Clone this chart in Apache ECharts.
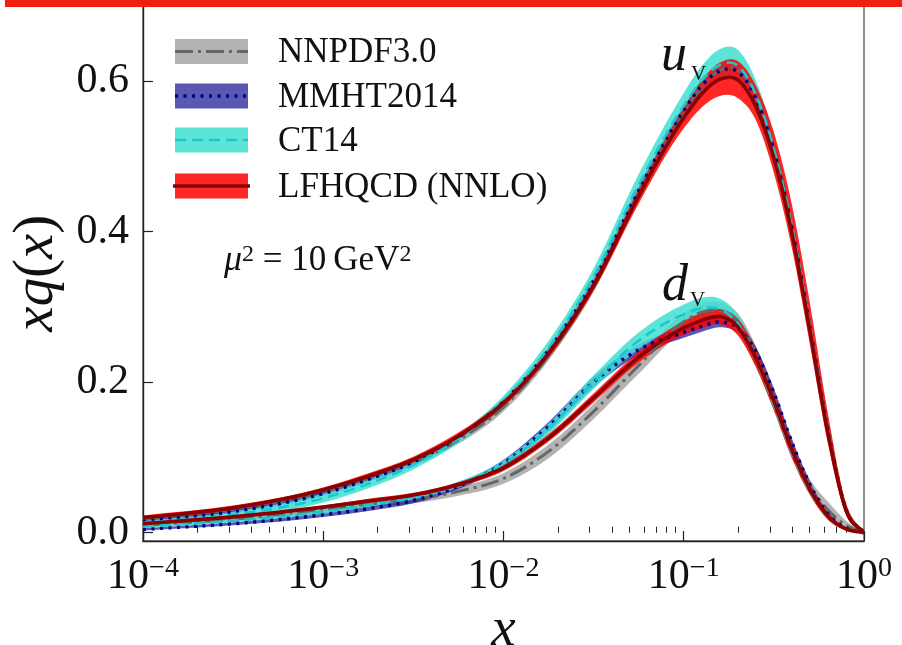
<!DOCTYPE html>
<html>
<head>
<meta charset="utf-8">
<script src="https://cdn.jsdelivr.net/npm/echarts@6.0.0/dist/echarts.min.js"></script>
<style>
  html, body { margin: 0; padding: 0; background: #ffffff; }
  #chart { width: 902px; height: 645px; }
</style>
</head>
<body>
<div id="chart"></div>
<script>
// Momentum fraction grid: quarter decades at small x, tenths of a decade near the peak
const xGrid = [1e-4, 3.16e-4, 1e-3, 1.78e-3, 3.16e-3, 5.62e-3, 0.01, 0.0178, 0.0316, 0.0562, 0.1,
               0.126, 0.158, 0.2, 0.251, 0.316, 0.398, 0.501, 0.631, 0.794, 1.0];

// x u_v(x) at mu^2 = 10 GeV^2 : central values and uncertainty band edges
const uvLfhqcdMid = [0.020, 0.033, 0.057, 0.075, 0.097, 0.128, 0.172, 0.238, 0.328, 0.447, 0.551, 0.583, 0.602, 0.601, 0.566, 0.498, 0.398, 0.268, 0.132, 0.030, 0.000];
const uvLfhqcdLo  = [0.017, 0.030, 0.054, 0.072, 0.093, 0.124, 0.167, 0.232, 0.321, 0.437, 0.537, 0.565, 0.580, 0.577, 0.548, 0.478, 0.378, 0.250, 0.118, 0.024, 0.000];
const uvLfhqcdHi  = [0.023, 0.036, 0.060, 0.079, 0.101, 0.133, 0.177, 0.244, 0.335, 0.457, 0.565, 0.601, 0.624, 0.626, 0.594, 0.532, 0.436, 0.305, 0.158, 0.040, 0.000];

const uvCt14Mid = [0.013, 0.024, 0.046, 0.065, 0.090, 0.125, 0.175, 0.246, 0.340, 0.462, 0.567, 0.601, 0.621, 0.620, 0.582, 0.510, 0.407, 0.274, 0.136, 0.031, 0.000];
const uvCt14Lo  = [0.010, 0.020, 0.040, 0.059, 0.084, 0.119, 0.168, 0.237, 0.329, 0.448, 0.550, 0.582, 0.600, 0.599, 0.563, 0.494, 0.395, 0.266, 0.131, 0.029, 0.000];
const uvCt14Hi  = [0.016, 0.028, 0.052, 0.071, 0.096, 0.131, 0.182, 0.255, 0.351, 0.476, 0.584, 0.620, 0.642, 0.641, 0.601, 0.526, 0.419, 0.282, 0.141, 0.033, 0.000];

const uvMmhtMid = [0.015, 0.028, 0.052, 0.071, 0.094, 0.127, 0.174, 0.243, 0.335, 0.455, 0.561, 0.594, 0.613, 0.612, 0.577, 0.507, 0.405, 0.273, 0.136, 0.031, 0.000];
const uvMmhtLo  = [0.013, 0.026, 0.049, 0.068, 0.091, 0.124, 0.170, 0.239, 0.330, 0.449, 0.554, 0.586, 0.605, 0.604, 0.569, 0.500, 0.399, 0.268, 0.133, 0.030, 0.000];
const uvMmhtHi  = [0.017, 0.030, 0.055, 0.074, 0.097, 0.130, 0.178, 0.247, 0.340, 0.461, 0.568, 0.602, 0.621, 0.620, 0.585, 0.514, 0.411, 0.278, 0.139, 0.032, 0.000];

const uvNnpdfMid = [0.018, 0.031, 0.054, 0.072, 0.093, 0.123, 0.167, 0.235, 0.327, 0.449, 0.557, 0.592, 0.614, 0.615, 0.580, 0.508, 0.404, 0.271, 0.134, 0.030, 0.000];
const uvNnpdfLo  = [0.015, 0.028, 0.050, 0.068, 0.088, 0.118, 0.161, 0.229, 0.320, 0.442, 0.549, 0.584, 0.606, 0.607, 0.572, 0.500, 0.397, 0.265, 0.130, 0.028, 0.000];
const uvNnpdfHi  = [0.021, 0.034, 0.058, 0.076, 0.098, 0.128, 0.173, 0.241, 0.334, 0.456, 0.565, 0.600, 0.622, 0.623, 0.588, 0.516, 0.411, 0.277, 0.138, 0.032, 0.000];

// x d_v(x) at mu^2 = 10 GeV^2
const dvLfhqcdMid = [0.012, 0.021, 0.034, 0.042, 0.050, 0.064, 0.086, 0.126, 0.179, 0.233, 0.272, 0.282, 0.287, 0.273, 0.232, 0.175, 0.110, 0.058, 0.022, 0.005, 0.000];
const dvLfhqcdLo  = [0.010, 0.019, 0.032, 0.039, 0.047, 0.061, 0.082, 0.121, 0.173, 0.226, 0.263, 0.272, 0.277, 0.262, 0.220, 0.163, 0.099, 0.050, 0.017, 0.003, 0.000];
const dvLfhqcdHi  = [0.014, 0.023, 0.036, 0.045, 0.053, 0.067, 0.090, 0.131, 0.185, 0.240, 0.281, 0.292, 0.297, 0.284, 0.244, 0.187, 0.121, 0.066, 0.027, 0.007, 0.000];

const dvCt14Mid = [0.008, 0.016, 0.028, 0.037, 0.047, 0.064, 0.091, 0.138, 0.200, 0.255, 0.290, 0.298, 0.297, 0.277, 0.231, 0.170, 0.106, 0.055, 0.021, 0.005, 0.000];
const dvCt14Lo  = [0.006, 0.014, 0.025, 0.034, 0.044, 0.060, 0.086, 0.131, 0.191, 0.244, 0.277, 0.284, 0.283, 0.265, 0.221, 0.162, 0.100, 0.051, 0.019, 0.004, 0.000];
const dvCt14Hi  = [0.010, 0.018, 0.031, 0.040, 0.050, 0.068, 0.096, 0.145, 0.209, 0.266, 0.303, 0.312, 0.311, 0.289, 0.241, 0.178, 0.112, 0.059, 0.023, 0.006, 0.000];

const dvMmhtMid = [0.0045, 0.012, 0.024, 0.032, 0.043, 0.062, 0.092, 0.141, 0.200, 0.243, 0.266, 0.274, 0.280, 0.272, 0.240, 0.186, 0.120, 0.064, 0.025, 0.006, 0.000];
const dvMmhtLo  = [0.003, 0.010, 0.021, 0.029, 0.039, 0.058, 0.087, 0.135, 0.193, 0.236, 0.259, 0.267, 0.273, 0.265, 0.233, 0.180, 0.115, 0.060, 0.023, 0.005, 0.000];
const dvMmhtHi  = [0.006, 0.014, 0.027, 0.035, 0.047, 0.066, 0.097, 0.147, 0.207, 0.250, 0.273, 0.281, 0.287, 0.279, 0.247, 0.192, 0.125, 0.068, 0.027, 0.007, 0.000];

const dvNnpdfMid = [0.010, 0.018, 0.031, 0.038, 0.044, 0.055, 0.072, 0.108, 0.161, 0.222, 0.280, 0.293, 0.295, 0.280, 0.238, 0.178, 0.113, 0.062, 0.030, 0.010, 0.000];
const dvNnpdfLo  = [0.007, 0.015, 0.027, 0.034, 0.039, 0.049, 0.065, 0.099, 0.151, 0.211, 0.269, 0.282, 0.284, 0.269, 0.228, 0.169, 0.105, 0.053, 0.021, 0.005, 0.000];
const dvNnpdfHi  = [0.013, 0.021, 0.035, 0.042, 0.049, 0.061, 0.079, 0.117, 0.171, 0.233, 0.291, 0.304, 0.306, 0.291, 0.248, 0.187, 0.121, 0.071, 0.041, 0.016, 0.000];

// Axis ticks
const yTickValues = [0, 0.2, 0.4, 0.6];
const xMajorTicks = [1e-4, 1e-3, 1e-2, 1e-1, 1];
const xMinorTicks = [2e-4, 3e-4, 4e-4, 5e-4, 6e-4, 7e-4, 8e-4, 9e-4,
                     2e-3, 3e-3, 4e-3, 5e-3, 6e-3, 7e-3, 8e-3, 9e-3,
                     0.02, 0.03, 0.04, 0.05, 0.06, 0.07, 0.08, 0.09,
                     0.2, 0.3, 0.4, 0.5, 0.6, 0.7, 0.8, 0.9];

const legendNames = ['NNPDF3.0', 'MMHT2014', 'CT14', 'LFHQCD (NNLO)'];

const SERIF = '"Liberation Serif", "DejaVu Serif", serif';
const INK = '#111111';

const styles = {
  nnpdf:  { band: 'rgba(128,128,128,0.6)', line: '#666666', width: 3,   dash: [18, 5, 3, 5] },
  mmht:   { band: 'rgba(0,0,139,0.65)',    line: '#00008b', width: 3.5, dash: [3, 5.5] },
  ct14:   { band: 'rgba(64,224,208,0.85)', line: '#1cc6cf', width: 2.6, dash: [11, 6] },
  lfhqcd: { band: 'rgba(255,0,0,0.85)',    line: '#8b0000', width: 3.6, dash: 'solid' }
};

function pairs(vals) { return xGrid.map((x, i) => [x, vals[i]]); }

// Smooth cubic path through pixel points (tangents from neighbouring secants)
function cubicThrough(P) {
  const n = P.length, h = [], d = [], m = [];
  for (let i = 0; i < n - 1; i++) {
    h[i] = P[i + 1][0] - P[i][0];
    d[i] = (P[i + 1][1] - P[i][1]) / h[i];
  }
  m[0] = d[0]; m[n - 1] = d[n - 2];
  for (let i = 1; i < n - 1; i++) m[i] = (d[i - 1] * h[i] + d[i] * h[i - 1]) / (h[i - 1] + h[i]);
  let s = '';
  for (let i = 0; i < n - 1; i++) {
    const c1x = P[i][0] + h[i] / 3, c1y = P[i][1] + m[i] * h[i] / 3;
    const c2x = P[i + 1][0] - h[i] / 3, c2y = P[i + 1][1] - m[i + 1] * h[i] / 3;
    s += ' C' + c1x.toFixed(2) + ',' + c1y.toFixed(2) + ' ' + c2x.toFixed(2) + ',' + c2y.toFixed(2) +
         ' ' + P[i + 1][0].toFixed(2) + ',' + P[i + 1][1].toFixed(2);
  }
  return s;
}

// Uncertainty band: filled region between the lower and upper edges
function bandSeries(id, lo, hi, color) {
  return {
    id: id, type: 'custom', silent: true, z: 2, clip: true,
    data: xGrid.map((x, i) => [x, lo[i], hi[i]]),
    encode: { x: 0, y: [1, 2] },
    renderItem: function (params, api) {
      if (params.dataIndex !== 0) return null;
      const up = xGrid.map((x, i) => api.coord([x, hi[i]]));
      const dn = xGrid.map((x, i) => api.coord([x, lo[i]])).reverse();
      const path = 'M' + up[0][0] + ',' + up[0][1] + cubicThrough(up) +
                   ' L' + dn[0][0] + ',' + dn[0][1] + cubicThrough(dn) + ' Z';
      return { type: 'path', shape: { pathData: path }, style: { fill: color } };
    }
  };
}

// Central value: same cubic through the mapped points, stroked with the set's dash pattern
function lineSeries(id, mid, st) {
  return {
    id: id, type: 'custom', silent: true, z: 3, clip: true,
    data: pairs(mid),
    encode: { x: 0, y: 1 },
    renderItem: function (params, api) {
      if (params.dataIndex !== 0) return null;
      const pts = xGrid.map((x, i) => api.coord([x, mid[i]]));
      return { type: 'path', shape: { pathData: 'M' + pts[0][0] + ',' + pts[0][1] + cubicThrough(pts) },
               style: { fill: null, stroke: st.line, lineWidth: st.width,
                        lineDash: st.dash === 'solid' ? null : st.dash, lineCap: 'butt' } };
    }
  };
}

const series = [
  bandSeries('uv-nnpdf', uvNnpdfLo, uvNnpdfHi, styles.nnpdf.band),
  bandSeries('dv-nnpdf', dvNnpdfLo, dvNnpdfHi, styles.nnpdf.band),
  bandSeries('uv-mmht', uvMmhtLo, uvMmhtHi, styles.mmht.band),
  bandSeries('dv-mmht', dvMmhtLo, dvMmhtHi, styles.mmht.band),
  bandSeries('uv-ct14', uvCt14Lo, uvCt14Hi, styles.ct14.band),
  bandSeries('dv-ct14', dvCt14Lo, dvCt14Hi, styles.ct14.band),
  bandSeries('uv-lf', uvLfhqcdLo, uvLfhqcdHi, styles.lfhqcd.band),
  bandSeries('dv-lf', dvLfhqcdLo, dvLfhqcdHi, styles.lfhqcd.band),
  lineSeries('uv-nnpdf-c', uvNnpdfMid, styles.nnpdf),
  lineSeries('dv-nnpdf-c', dvNnpdfMid, styles.nnpdf),
  lineSeries('uv-mmht-c', uvMmhtMid, styles.mmht),
  lineSeries('dv-mmht-c', dvMmhtMid, styles.mmht),
  lineSeries('uv-ct14-c', uvCt14Mid, styles.ct14),
  lineSeries('dv-ct14-c', dvCt14Mid, styles.ct14),
  lineSeries('uv-lf-c', uvLfhqcdMid, styles.lfhqcd),
  lineSeries('dv-lf-c', dvLfhqcdMid, styles.lfhqcd)
];

// Legend: filled patch with the central line style drawn through it
const legendKeys = ['nnpdf', 'mmht', 'ct14', 'lfhqcd'];
const legendRowY = [51.5, 96, 140, 186];
const legendGraphics = [];
legendKeys.forEach((k, i) => {
  const st = styles[k];
  const cy = legendRowY[i];
  legendGraphics.push({ type: 'rect', shape: { x: 175, y: cy - 12.5, width: 73, height: 25 },
                        style: { fill: st.band }, z: 10 });
  legendGraphics.push({ type: 'line', shape: { x1: k === 'lfhqcd' ? 173 : 175, y1: cy, x2: k === 'lfhqcd' ? 250 : 248, y2: cy },
                        style: { stroke: st.line, lineWidth: st.width, lineDash: st.dash === 'solid' ? null : st.dash }, z: 11 });
  legendGraphics.push({ type: 'text', x: 278, y: cy + 1.5,
                        style: { text: legendNames[i], font: '35px ' + SERIF, fill: INK, verticalAlign: 'middle', align: 'left' }, z: 11 });
});

const option = {
  animation: false,
  backgroundColor: '#ffffff',
  grid: { left: 143, right: 38, top: 5.6, bottom: 104, show: true, borderColor: '#555555', borderWidth: 1.3,
          backgroundColor: 'transparent', containLabel: false, outerBoundsMode: 'none' },
  xAxis: [
    {
      type: 'log', logBase: 10, min: 1e-4, max: 1, position: 'bottom',
      axisLine: { show: true, onZero: false, lineStyle: { color: '#222222', width: 1.4 } },
      axisTick: { show: true, inside: true, length: 10, customValues: xMajorTicks, lineStyle: { color: '#222222', width: 1.2 } },
      minorTick: { show: false },
      splitLine: { show: false },
      axisLabel: {
        customValues: xMajorTicks, margin: 14, color: INK, hideOverlap: false,
        formatter: function (v) {
          const e = Math.round(Math.log10(v));
          return '{b|10}{s|' + (e < 0 ? '\u2212' + (-e) : String(e)) + '}';
        },
        rich: {
          b: { fontFamily: SERIF, fontSize: 42, color: INK, lineHeight: 44 },
          s: { fontFamily: SERIF, fontSize: 28, color: INK, verticalAlign: 'top', lineHeight: 26 }
        }
      },
      name: '{i|x}', nameLocation: 'middle', nameGap: 50,
      nameTextStyle: { rich: { i: { fontFamily: SERIF, fontStyle: 'italic', fontSize: 55, color: INK } } }
    },
    {
      type: 'log', logBase: 10, min: 1e-4, max: 1, position: 'bottom', offset: 0,
      axisLine: { show: false },
      axisTick: { show: true, inside: true, length: 6, customValues: xMinorTicks, lineStyle: { color: '#222222', width: 1 } },
      axisLabel: { show: false },
      splitLine: { show: false }
    }
  ],
  yAxis: {
    type: 'value', min: -0.011, max: 0.7,
    axisLine: { show: true, onZero: false, lineStyle: { color: '#222222', width: 1.4 } },
    axisTick: { show: true, inside: true, length: 10, customValues: yTickValues, lineStyle: { color: '#222222', width: 1.2 } },
    splitLine: { show: false },
    axisLabel: {
      customValues: yTickValues, margin: 14, color: INK, fontFamily: SERIF, fontSize: 42,
      formatter: function (v) { return v.toFixed(1); }
    },
    name: '{i|xq}{r|(}{i|x}{r|)}', nameLocation: 'middle', nameGap: 103, nameRotate: 90,
    nameTextStyle: { align: 'center', verticalAlign: 'middle', rich: {
      i: { fontFamily: SERIF, fontStyle: 'italic', fontSize: 57, color: INK },
      r: { fontFamily: SERIF, fontSize: 57, color: INK }
    } }
  },
  series: series,
  graphic: [
    { type: 'rect', shape: { x: 5, y: 0, width: 897, height: 7 }, style: { fill: '#f0200f' }, z: 20 },
    // mu^2 = 10 GeV^2
    { type: 'text', x: 224, y: 261, z: 11,
      style: { text: '{i|\u03bc}{s|2}{n| = 10\u2009GeV}{s|2}', verticalAlign: 'middle',
               rich: {
                 i: { fontFamily: SERIF, fontStyle: 'italic', fontSize: 36, fill: INK },
                 n: { fontFamily: SERIF, fontSize: 35, fill: INK },
                 s: { fontFamily: SERIF, fontSize: 24, fill: INK, verticalAlign: 'top', lineHeight: 22 }
               } } },
    // curve labels
    { type: 'text', x: 661, y: 56, z: 11, style: { text: 'u', font: 'italic 52px ' + SERIF, fill: INK, verticalAlign: 'middle' } },
    { type: 'text', x: 691, y: 74, z: 11, style: { text: 'V', font: '21px ' + SERIF, fill: INK, verticalAlign: 'middle' } },
    { type: 'text', x: 662, y: 286, z: 11, style: { text: 'd', font: 'italic 52px ' + SERIF, fill: INK, verticalAlign: 'middle' } },
    { type: 'text', x: 690, y: 300, z: 11, style: { text: 'V', font: '21px ' + SERIF, fill: INK, verticalAlign: 'middle' } }
  ].concat(legendGraphics)
};

const chart = echarts.init(document.getElementById('chart'), null, { renderer: 'canvas' });
chart.setOption(option);
</script>
</body>
</html>
